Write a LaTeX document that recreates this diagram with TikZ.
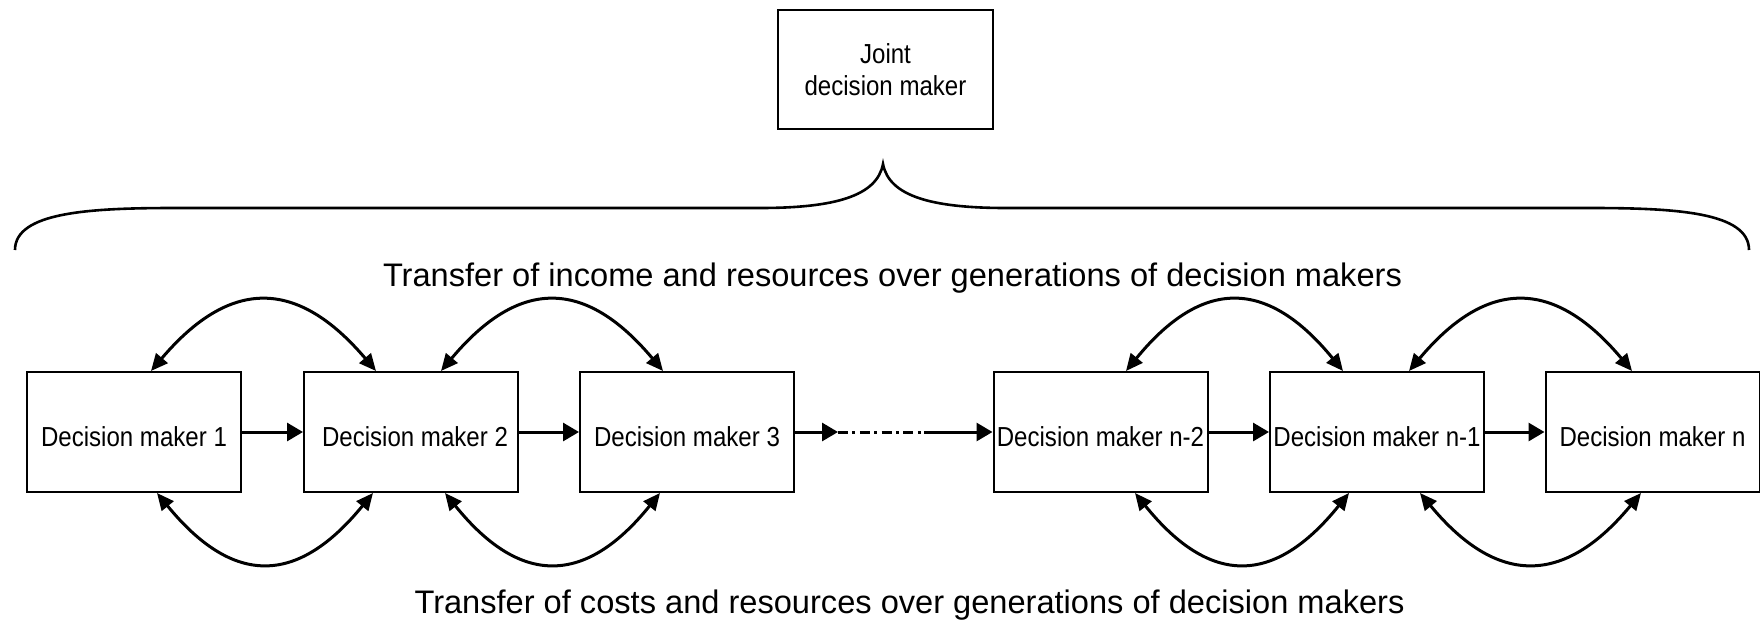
\documentclass[tikz,border=0pt]{standalone}
\usepackage{fontspec}
\setmainfont{Liberation Sans}
\newfontfamily\narrowsf{Liberation Sans}[FakeStretch=0.875]
\usetikzlibrary{arrows.meta,calc}
\begin{document}
\begin{tikzpicture}[x=0.5pt,y=-0.5pt,
  dmbox/.style={draw,line width=1pt,minimum width=107pt,minimum height=60pt,inner sep=0pt,
    font=\narrowsf\fontsize{13.75pt}{16pt}\selectfont,text height=14.7pt,text depth=0pt},
  jointbox/.style={draw,line width=1pt,minimum width=107.5pt,minimum height=59.5pt,inner sep=0pt,
    align=center,font=\narrowsf\fontsize{13.75pt}{15.7pt}\selectfont},
  transfer/.style={anchor=base,inner sep=0pt,font=\fontsize{16.3pt}{19pt}\selectfont},
  harrow/.style={line width=1.5pt,-{Triangle[length=8pt,width=9pt]}},
  dotseg/.style={line width=1.5pt,dash pattern=on 5pt off 2.2pt on 1.5pt off 2.2pt},
  twoarc/.style={line width=1.5pt,{Triangle[length=8.5pt,width=7.5pt]}-{Triangle[length=8.5pt,width=7.5pt]}},
  bracestyle/.style={line width=1.3pt}
]
\useasboundingbox (0,0) rectangle (1760,621);

% joint decision maker
\node[jointbox] (joint) at (885.5,69.5) {Joint\\decision maker};

% brace
\coordinate (bl) at (15,250);
\coordinate (br) at (1749,250);
\coordinate (tip) at (883,164);
\draw[bracestyle] (bl) .. controls (15,212) and (90,208) .. (175,208)
  -- (760,208) .. controls (835,208) and (877,196) .. (tip)
  .. controls (889,196) and (931,208) .. (1006,208)
  -- (1590,208) .. controls (1675,208) and (1749,212) .. (br);

% texts
\node[transfer] (ttop) at (892.5,286.7) {Transfer of income and resources over generations of decision makers};
\node[transfer] (tbot) at (909.5,613) {Transfer of costs and resources over generations of decision makers};

% boxes
\node[dmbox] (dm1) at (134,432) {Decision maker 1};
\node[dmbox] (dm2) at (411,432) {\hspace*{4pt}Decision maker 2};
\node[dmbox] (dm3) at (687,432) {Decision maker 3};
\node[dmbox] (dmn2) at (1100.5,432) {Decision maker n-2};
\node[dmbox] (dmn1) at (1377,432) {Decision maker n-1};
\node[dmbox] (dmn) at (1652.5,432) {Decision maker n};

% horizontal arrows
\draw[harrow] (dm1.east) -- (dm2.west);
\draw[harrow] (dm2.east) -- (dm3.west);
\coordinate (d1) at (838,432);
\coordinate (d2) at (924,432);
\draw[harrow] (dm3.east) -- (d1);
\draw[dotseg] (d1) -- (d2);
\draw[harrow] (d2) -- (dmn2.west);
\draw[harrow] (dmn2.east) -- (dmn1.west);
\draw[harrow] (dmn1.east) -- (dmn.west);

% top arcs
\draw[twoarc] ($(dm1.north west)+(125,0)$) .. controls ($(dm1.north west)+(204,-93)$) and ($(dm2.north west)+(-6,-93)$) .. ($(dm2.north west)+(73,0)$);
\draw[twoarc] ($(dm2.north west)+(138,0)$) .. controls ($(dm2.north west)+(216,-93)$) and ($(dm3.north west)+(6,-93)$) .. ($(dm3.north west)+(84,0)$);
\draw[twoarc] ($(dmn2.north west)+(133.5,0)$) .. controls ($(dmn2.north west)+(209.5,-93)$) and ($(dmn1.north west)+(-2,-93)$) .. ($(dmn1.north west)+(74,0)$);
\draw[twoarc] ($(dmn1.north west)+(140,0)$) .. controls ($(dmn1.north west)+(218,-93)$) and ($(dmn.north west)+(9.5,-93)$) .. ($(dmn.north west)+(87.5,0)$);

% bottom arcs
\draw[twoarc] ($(dm1.south west)+(131,0)$) .. controls ($(dm1.south west)+(207,93)$) and ($(dm2.south west)+(-6,93)$) .. ($(dm2.south west)+(70,0)$);
\draw[twoarc] ($(dm2.south west)+(142,0)$) .. controls ($(dm2.south west)+(217,93)$) and ($(dm3.south west)+(6,93)$) .. ($(dm3.south west)+(81,0)$);
\draw[twoarc] ($(dmn2.south west)+(142.5,0)$) .. controls ($(dmn2.south west)+(217.5,93)$) and ($(dmn1.south west)+(5,93)$) .. ($(dmn1.south west)+(80,0)$);
\draw[twoarc] ($(dmn1.south west)+(151,0)$) .. controls ($(dmn1.south west)+(228,93)$) and ($(dmn.south west)+(19.5,93)$) .. ($(dmn.south west)+(96.5,0)$);
\end{tikzpicture}
\end{document}
